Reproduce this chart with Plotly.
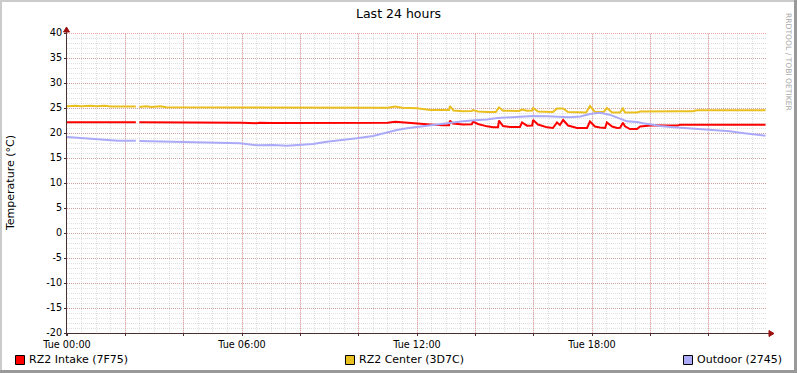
import math
import plotly.graph_objects as go

# ---------------- data (hours since Tue 00:00, °C) ----------------
intake_t = [0, 0.5, 1.0, 1.5, 2.0, 2.08, 2.14, 2.36, 2.37, 2.48, 2.8, 2.85, 2.92, 3.1, 3.2, 4.0, 5.0, 6.0,
            6.5, 6.6, 7.0, 7.5, 8.0, 8.5, 8.6, 9.0, 10.0, 11.0, 11.25, 11.45, 11.6, 12.0, 12.2, 12.45, 12.89,
            13.1, 13.13, 13.23, 13.58, 13.88, 13.92, 14.09, 14.4, 14.61, 14.78, 14.81, 14.95, 15.19, 15.53,
            15.6, 15.77, 15.95, 15.98, 16.15, 16.46, 16.66, 16.8, 16.9, 17.01, 17.18, 17.49, 17.83, 17.93,
            18.1, 18.27, 18.45, 18.51, 18.69, 18.86, 18.96, 19.06, 19.13, 19.3, 19.54, 19.65, 19.89, 20.09,
            20.57, 20.95, 21.02, 22.0, 23.0, 23.95]
intake_v = [22.15, 22.15, 22.15, 22.15, 22.15, 22.0, 22.15, 22.15, None, 22.15, 22.15, 22.0, 22.15, 22.15,
            22.05, 22.05, 22.05, 22.05, 21.97, 22.05, 22.0, 22.0, 22.05, 21.97, 22.05, 22.05, 22.05, 22.05,
            22.27, 22.2, 22.05, 21.95, 21.8, 21.7, 21.53, 21.55, 22.47, 21.9, 21.7, 21.75, 22.3, 21.8, 21.33,
            21.13, 21.15, 22.47, 21.4, 21.2, 21.2, 22.1, 21.47, 21.5, 22.6, 21.7, 21.13, 21.0, 22.1, 21.6,
            22.6, 21.5, 21.0, 21.0, 22.3, 21.3, 21.1, 21.0, 22.13, 21.3, 21.0, 21.05, 22.07, 21.35, 20.8,
            20.8, 21.3, 21.4, 21.53, 21.5, 21.5, 21.67, 21.67, 21.67, 21.67]

center_t = [0, 0.3, 0.5, 0.8, 1.0, 1.3, 1.5, 1.8, 2.0, 2.36, 2.37, 2.48, 2.7, 2.9, 3.2, 3.4, 4.0, 4.5, 5.0,
            5.5, 6.0, 7.0, 8.0, 9.0, 10.0, 11.0, 11.25, 11.5, 12.0, 12.1, 12.45, 12.9, 13.1, 13.13, 13.25,
            13.58, 13.88, 13.92, 14.09, 14.4, 14.7, 14.81, 14.95, 15.5, 15.6, 15.77, 15.95, 15.98, 16.15,
            16.66, 16.8, 17.01, 17.18, 17.8, 17.93, 18.1, 18.4, 18.51, 18.69, 18.96, 19.06, 19.13, 19.54,
            19.65, 20.0, 20.5, 21.0, 21.46, 21.6, 22.5, 23.0, 23.5, 23.95]
center_v = [25.35, 25.45, 25.35, 25.45, 25.35, 25.45, 25.3, 25.35, 25.3, 25.3, None, 25.2, 25.35, 25.2,
            25.35, 25.15, 25.15, 25.05, 25.15, 25.05, 25.05, 25.0, 25.05, 25.0, 25.05, 25.05, 25.3, 25.05,
            24.95, 24.87, 24.6, 24.6, 24.6, 25.4, 24.5, 24.35, 24.4, 24.6, 24.3, 24.2, 24.2, 25.13, 24.45,
            24.4, 24.7, 24.45, 24.5, 25.0, 24.3, 24.2, 24.9, 24.9, 24.2, 24.1, 25.4, 24.2, 24.2, 25.0, 24.1,
            24.1, 24.9, 24.1, 24.1, 24.3, 24.35, 24.3, 24.35, 24.35, 24.55, 24.55, 24.6, 24.55, 24.55]

outdoor_t = [0, 0.27, 0.5, 0.89, 1.23, 1.75, 2.06, 2.36, 2.37, 2.48, 2.85, 3.53, 4.56, 5.2, 5.93, 6.51,
             7.06, 7.54, 7.99, 8.43, 8.91, 9.36, 9.94, 10.49, 10.97, 11.31, 11.66, 12.1, 12.45, 12.89, 13.58,
             14.09, 14.4, 14.75, 15.1, 15.53, 15.98, 16.46, 16.8, 17.25, 17.6, 17.93, 18.27, 18.6, 18.96,
             19.2, 19.54, 19.75, 20.09, 20.33, 20.8, 21.14, 21.6, 21.94, 22.39, 22.73, 23.07, 23.52, 23.95]
outdoor_v = [19.2, 19.1, 19.0, 18.8, 18.6, 18.47, 18.45, 18.45, None, 18.4, 18.35, 18.27, 18.13, 18.1,
             17.93, 17.53, 17.6, 17.47, 17.6, 17.8, 18.27, 18.53, 18.93, 19.4, 20.07, 20.6, 20.93, 21.27,
             21.53, 21.93, 22.33, 22.6, 22.7, 23.0, 23.1, 23.27, 23.4, 23.35, 23.27, 23.13, 23.3, 23.8, 24.05,
             23.67, 22.87, 22.33, 22.2, 21.93, 21.67, 21.4, 21.13, 21.0, 20.87, 20.6, 20.47, 20.33, 20.07,
             19.8, 19.45]

series_names = ["RZ2 Intake (7F75)", "RZ2 Center (3D7C)", "Outdoor (2745)"]
series_colors = ["#FF0000", "#E9C020", "#AAAAF8"]

y_tickvals = [-20, -15, -10, -5, 0, 5, 10, 15, 20, 25, 30, 35, 40]
y_ticktext = ["-20", "-15", "-10", "-5", "0", "5", "10", "15", "20", "25", "30", "35", "40"]
x_tickvals = [0, 2, 4, 6, 8, 10, 12, 14, 16, 18, 20, 22]
x_ticktext = ["Tue 00:00", "", "", "Tue 06:00", "", "", "Tue 12:00", "", "", "Tue 18:00", "", ""]

title_text = "Last 24 hours"
y_title = "Temperature (°C)"
watermark = "RRDTOOL / TOBI OETIKER"

# ---------------- layout helpers (pixel -> paper) ----------------
W, H = 797, 373
L, R, T, B = 67, 767, 33, 333
X_RANGE, Y_RANGE = [0, 24], [-20, 40]


def px(x):
    return (x - L) / (R - L)


def py(y):
    return (B - y) / (B - T)


FONT = "DejaVu Sans"
AXIS_COL = "#4a3030"
ARROW_COL = "#9a1010"
MAJOR_COL = "#ECA4A4"
MINOR_COL = "rgba(150,150,150,0.3)"
DOT = "1px,1px"

fig = go.Figure()
for t, v, name, col in zip([intake_t, center_t, outdoor_t], [intake_v, center_v, outdoor_v],
                           series_names, series_colors):
    fig.add_trace(go.Scatter(x=t, y=v, mode="lines", name=name, showlegend=False,
                             line=dict(color=col, width=2), connectgaps=False, hoverinfo="skip"))

fig.update_xaxes(range=X_RANGE, tickmode="array", tickvals=x_tickvals, ticktext=x_ticktext,
                 showline=False, zeroline=False, showgrid=False, ticks="outside", ticklen=2,
                 tickcolor=AXIS_COL, tickfont=dict(family=FONT, size=9.7, color="#000"),
                 minor=dict(dtick=0.5, tick0=0, showgrid=True, gridcolor=MINOR_COL,
                            griddash=DOT, gridwidth=1))
fig.update_yaxes(range=Y_RANGE, tickmode="array", tickvals=y_tickvals, ticktext=y_ticktext,
                 showline=False, zeroline=False, showgrid=False, ticks="outside", ticklen=2,
                 tickcolor=AXIS_COL, tickfont=dict(family=FONT, size=9.7, color="#000"),
                 minor=dict(dtick=1, tick0=0, showgrid=True, gridcolor=MINOR_COL,
                            griddash=DOT, gridwidth=1))

shapes = []
# major grid (red dotted) at tick positions, snapped to pixel centres for crisp rendering
for xv in x_tickvals[1:]:
    p = L + (xv - X_RANGE[0]) / (X_RANGE[1] - X_RANGE[0]) * (R - L)
    off = math.floor(p) + 0.5 - p
    shapes.append(dict(type="line", xref="x", yref="paper", xsizemode="pixel", xanchor=xv,
                       x0=off, x1=off, y0=0, y1=1, layer="below",
                       line=dict(color=MAJOR_COL, width=1, dash=DOT)))
for yv in y_tickvals[1:]:
    shapes.append(dict(type="line", xref="paper", yref="y", ysizemode="pixel", yanchor=yv,
                       x0=0, x1=1, y0=-0.5, y1=-0.5, layer="below",
                       line=dict(color=MAJOR_COL, width=1, dash=DOT)))
# frame of the image
shapes.append(dict(type="line", xref="paper", yref="paper", x0=px(0), x1=px(W), y0=py(1), y1=py(1),
                   line=dict(color="#CBCBCB", width=2)))
shapes.append(dict(type="line", xref="paper", yref="paper", x0=px(1), x1=px(1), y0=py(0), y1=py(H),
                   line=dict(color="#CBCBCB", width=2)))
shapes.append(dict(type="line", xref="paper", yref="paper", x0=px(0), x1=px(W), y0=py(H - 1.5), y1=py(H - 1.5),
                   line=dict(color="#999999", width=3)))
shapes.append(dict(type="line", xref="paper", yref="paper", x0=px(W - 1.5), x1=px(W - 1.5), y0=py(0), y1=py(H),
                   line=dict(color="#999999", width=3)))
# axes lines + arrows
shapes.append(dict(type="line", xref="paper", yref="paper", x0=px(64), x1=px(770), y0=py(333.5), y1=py(333.5),
                   line=dict(color=AXIS_COL, width=1)))
shapes.append(dict(type="line", xref="paper", yref="paper", x0=px(66.5), x1=px(66.5), y0=py(336), y1=py(30),
                   line=dict(color=AXIS_COL, width=1)))
shapes.append(dict(type="path", xref="paper", yref="paper",
                   path=f"M {px(769)} {py(330.5)} L {px(774)} {py(333.5)} L {px(769)} {py(336.5)} Z",
                   fillcolor=ARROW_COL, line=dict(color=ARROW_COL, width=1)))
shapes.append(dict(type="path", xref="paper", yref="paper",
                   path=f"M {px(63.5)} {py(32)} L {px(66.5)} {py(27)} L {px(69.5)} {py(32)} Z",
                   fillcolor=ARROW_COL, line=dict(color=ARROW_COL, width=1)))

annotations = [
    dict(text=title_text, xref="paper", yref="paper", x=px(398.5), y=py(13), showarrow=False,
         xanchor="center", yanchor="middle", font=dict(family=FONT, size=12.5, color="#000")),
    dict(text=y_title, xref="paper", yref="paper", x=px(10), y=py(183), showarrow=False, textangle=-90,
         xanchor="center", yanchor="middle", font=dict(family=FONT, size=11, color="#000")),
    dict(text=watermark, xref="paper", yref="paper", x=px(789), y=py(62), showarrow=False, textangle=90,
         xanchor="center", yanchor="middle", font=dict(family=FONT, size=7.6, color="#A8A8A8")),
]

legend_x = [15, 345, 683]
for sx, name, col in zip(legend_x, series_names, series_colors):
    shapes.append(dict(type="rect", xref="paper", yref="paper", x0=px(sx + 0.5), x1=px(sx + 9.5),
                       y0=py(355.5), y1=py(364.5), fillcolor=col, line=dict(color="#000", width=1)))
    annotations.append(dict(text=name, xref="paper", yref="paper", x=px(sx + 12), y=py(359.5),
                            showarrow=False, xanchor="left", yanchor="middle",
                            font=dict(family=FONT, size=11, color="#000")))

fig.update_layout(width=W, height=H, margin=dict(l=L, r=W - R, t=T, b=H - B, pad=0),
                  paper_bgcolor="#FFFFFF", plot_bgcolor="#FFFFFF", showlegend=False,
                  shapes=shapes, annotations=annotations)

fig.write_html("out.html", config={"displayModeBar": False, "staticPlot": True},
               post_script="document.body.style.margin='0';document.body.style.padding='0';")
